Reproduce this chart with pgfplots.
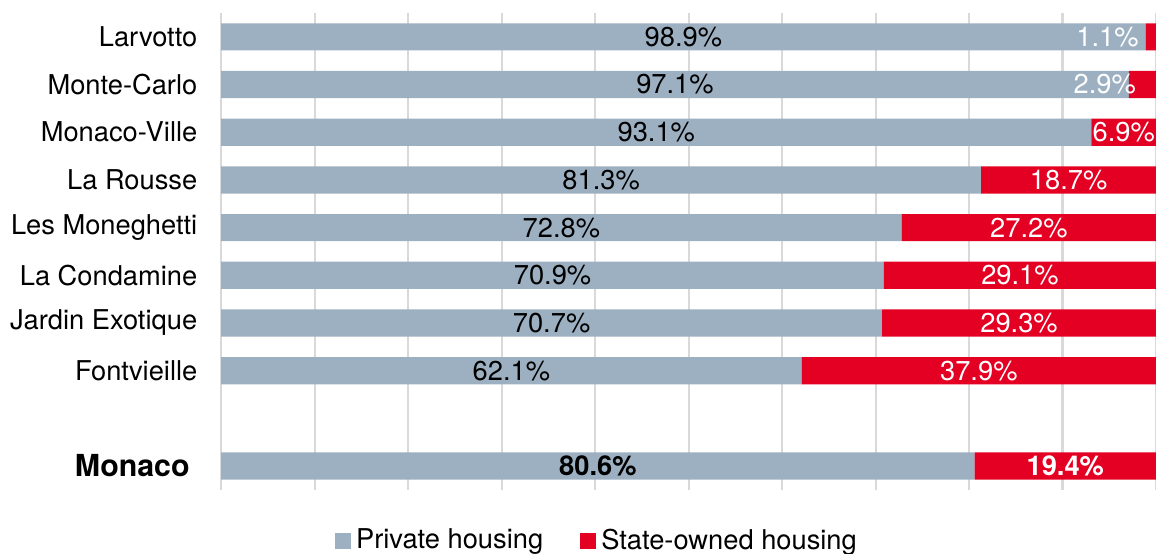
\documentclass[border=0pt]{standalone}
\usepackage{pgfplots}
\pgfplotsset{compat=1.18}
\usepackage{pgfplotstable}
\usepackage{fontspec}
\setmainfont{TeX Gyre Heros}

\definecolor{priv}{HTML}{9CB0C1}
\definecolor{state}{HTML}{E30022}
\definecolor{gridc}{HTML}{D9D9D9}

% share of housing per district (Monaco total at y=0, gap at y=1)
\pgfplotstableread{
y priv state
9 98.9 1.1
8 97.1 2.9
7 93.1 6.9
6 81.3 18.7
5 72.8 27.2
4 70.9 29.1
3 70.7 29.3
2 62.1 37.9
0 80.6 19.4
}\housing

\DeclareRobustCommand\lbl{\fontsize{10.7}{12.5}\selectfont}
\DeclareRobustCommand\totlbl{\fontsize{11.9}{13}\selectfont\bfseries}
\tikzset{lab/.style={font=\lbl, inner sep=0pt}}

\begin{document}
\begin{tikzpicture}
\begin{axis}[
  xbar stacked, reverse stacked plots=false, bar width=0.57,
  scale only axis, width=366.6pt, height=187pt,
  xmin=0, xmax=100, ymin=-0.5, ymax=9.5,
  clip=false,
  axis line style={draw=none},
  xmajorgrids, major grid style={gridc, line width=0.8pt},
  xtick={0,10,...,100}, xticklabels={},
  ytick={0,2,3,4,5,6,7,8,9},
  yticklabels={{\raisebox{-2pt}{\totlbl Monaco\kern3pt}},
    Fontvieille, Jardin Exotique, La Condamine, Les Moneghetti,
    La Rousse, Monaco-Ville, Monte-Carlo, Larvotto},
  yticklabel style={font=\lbl, anchor=east, xshift=-5.8pt},
  major tick length=0, tick style={draw=none},
  legend style={at={(0.113,-0.107)}, anchor=west, draw=none, font=\lbl,
    legend columns=2, /tikz/every even column/.append style={column sep=12.5pt}},
  legend cell align=left,
  legend image code/.code={\fill[#1] (0pt,-3.15pt) rectangle (6.3pt,3.15pt);},
]
\addplot[fill=priv, draw=none] table[x=priv, y=y] {\housing};
\addplot[fill=state, draw=none] table[x=state, y=y] {\housing};
\legend{Private housing, State-owned housing}

\node[lab, black] at (axis cs:49.45,9) {98.9\%};
\node[lab, black] at (axis cs:48.55,8) {97.1\%};
\node[lab, black] at (axis cs:46.55,7) {93.1\%};
\node[lab, black] at (axis cs:40.65,6) {81.3\%};
\node[lab, black] at (axis cs:36.4,5) {72.8\%};
\node[lab, black] at (axis cs:35.45,4) {70.9\%};
\node[lab, black] at (axis cs:35.35,3) {70.7\%};
\node[lab, black] at (axis cs:31.05,2) {62.1\%};
\node[lab, black] at (axis cs:40.3,0) {\bfseries 80.6\%};
\node[lab, white, anchor=east] at (axis cs:98.2,9) {1.1\%};
\node[lab, white, anchor=east] at (axis cs:97.9,8) {2.9\%};
\node[lab, white] at (axis cs:96.55,7) {6.9\%};
\node[lab, white] at (axis cs:90.65,6) {18.7\%};
\node[lab, white] at (axis cs:86.4,5) {27.2\%};
\node[lab, white] at (axis cs:85.45,4) {29.1\%};
\node[lab, white] at (axis cs:85.35,3) {29.3\%};
\node[lab, white] at (axis cs:81.05,2) {37.9\%};
\node[lab, white] at (axis cs:90.3,0) {\bfseries 19.4\%};
\end{axis}
\pgfresetboundingbox
\path[use as bounding box] (-86.7pt,-25.1pt) rectangle (366.6pt,192.1pt);
\end{tikzpicture}
\end{document}
